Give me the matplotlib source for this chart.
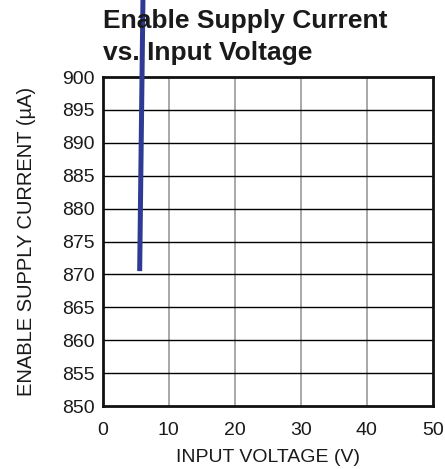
import matplotlib
matplotlib.use("Agg")
import matplotlib.pyplot as plt

plt.rcParams['font.family'] = ['Liberation Sans', 'DejaVu Sans']

voltage = [5.6, 6.1]
current = [870.5, 912.0]
x_ticks = [0, 10, 20, 30, 40, 50]
y_ticks = [850, 855, 860, 865, 870, 875, 880, 885, 890, 895, 900]

fig = plt.figure(figsize=(4.45, 4.69), dpi=100)
ax = fig.add_axes([102.7/445, 1 - 406/469, 330/445, 329/469])
ax.set_xlim(0, 50)
ax.set_ylim(850, 900)
ax.set_xticks(x_ticks)
ax.set_yticks(y_ticks)
for x in x_ticks[1:-1]:
    ax.axvline(x, color='#9a9a9a', lw=1.2, zorder=1)
for y in y_ticks[1:-1]:
    ax.axhline(y, color='black', lw=1.0, zorder=1)
for s in ax.spines.values():
    s.set_linewidth(2.0)
    s.set_color('#111111')
ax.tick_params(length=0, labelsize=14, pad=5.5, colors='#1a1a1a')
ax.tick_params(axis='x', pad=11.5)
ax.plot(voltage, current, color='#2E3A94', lw=3.6, clip_on=False, zorder=5, solid_capstyle='butt')
ax.set_xlabel('INPUT VOLTAGE (V)', fontsize=14, labelpad=7, color='#1a1a1a')
ax.set_ylabel('ENABLE SUPPLY CURRENT (µA)', fontsize=14.5, labelpad=19, color='#1a1a1a')
fig.text(103/445, 1 - 28/469, 'Enable Supply Current', fontsize=19,
         fontweight='bold', ha='left', va='baseline', color='#1a1a1a')
fig.text(103/445, 1 - 60/469, 'vs. Input Voltage', fontsize=19,
         fontweight='bold', ha='left', va='baseline', color='#1a1a1a')
fig.savefig('out.png', dpi=100)
